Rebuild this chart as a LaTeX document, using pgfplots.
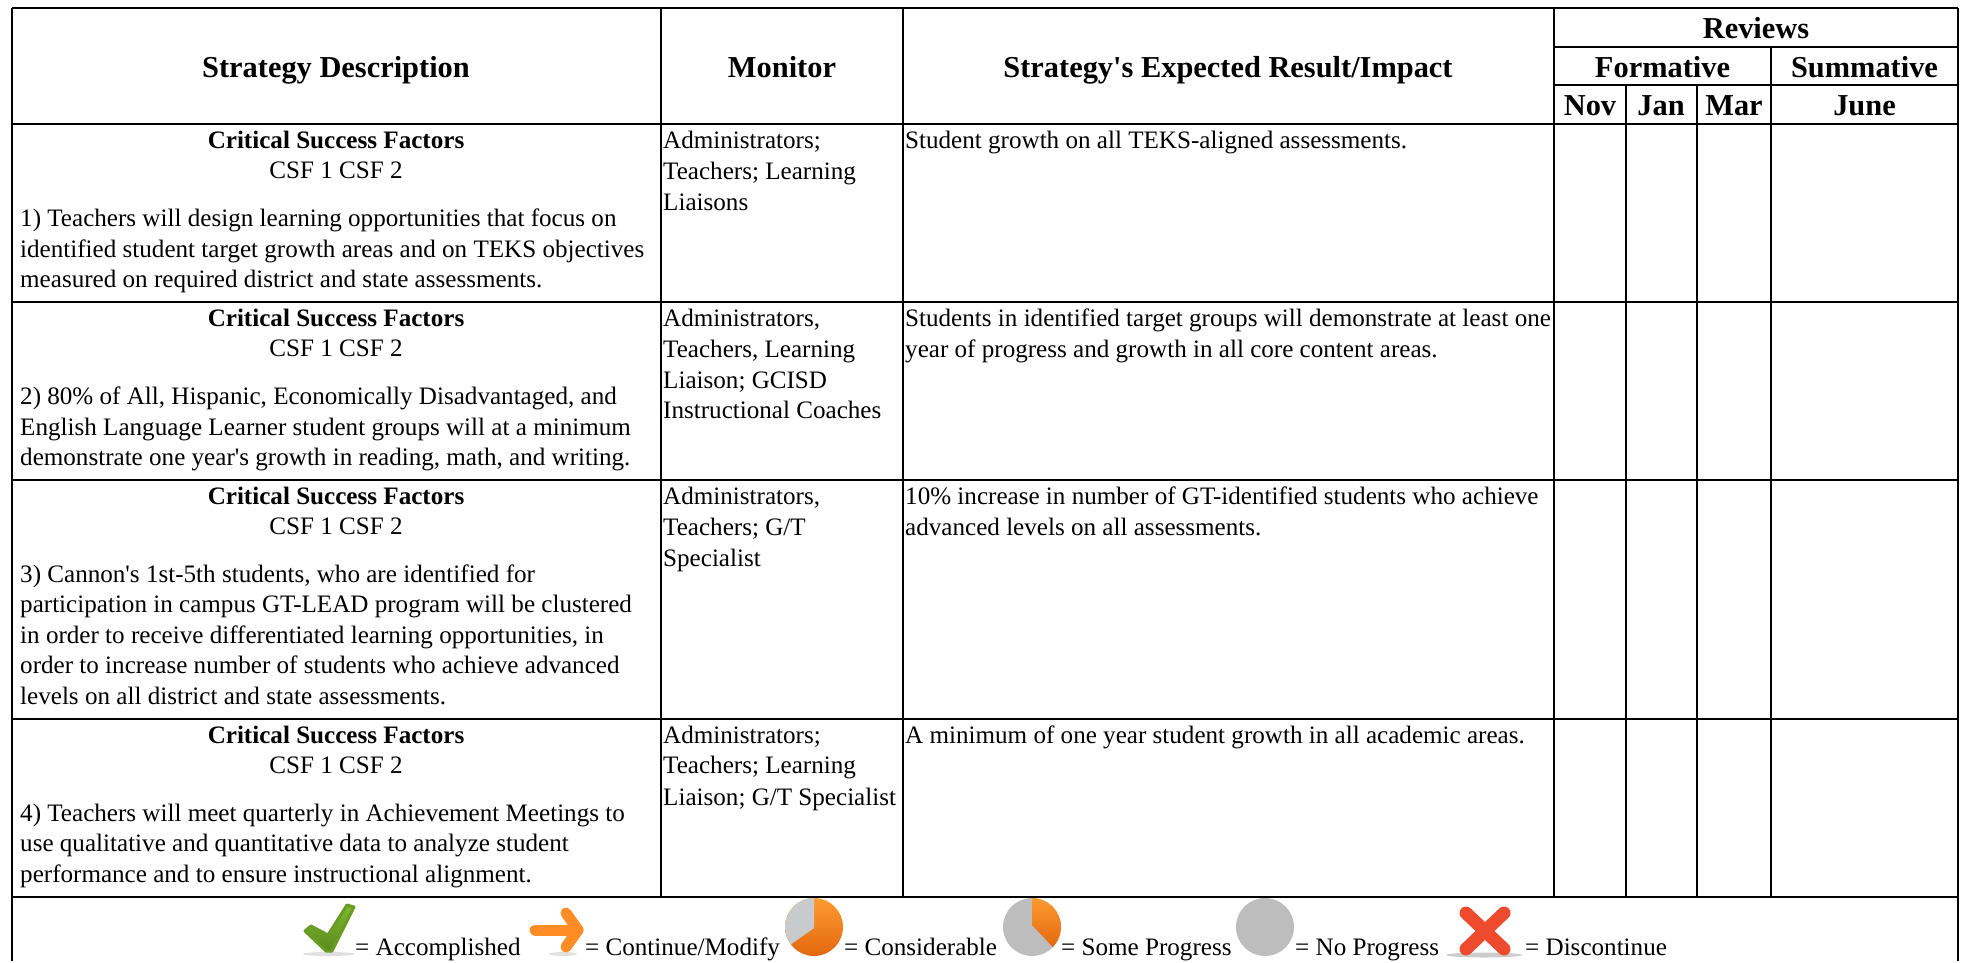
\documentclass[border=0pt]{standalone}
\usepackage{pgfplots}
\pgfplotsset{compat=1.18}
\usepackage{fontspec}
\setmainfont{Liberation Serif}[Ligatures=TeXOff]
\definecolor{chkA}{HTML}{80B830}
\definecolor{chkB}{HTML}{5A8A1E}
\definecolor{orA}{HTML}{FF8C24}
\definecolor{orC}{HTML}{FF9A30}
\definecolor{orB}{HTML}{E2680F}
\definecolor{grA}{HTML}{C8CACC}
\definecolor{grB}{HTML}{BDBDBD}
\definecolor{redA}{HTML}{EE4A2E}
\newcommand{\T}[3]{\node[anchor=base west,inner sep=0pt] at (axis cs:#1,#2) {\fontsize{25.1}{28}\selectfont #3};}
\newcommand{\C}[3]{\node[anchor=base,inner sep=0pt] at (axis cs:#1,#2) {\fontsize{25.1}{28}\selectfont #3};}
\newcommand{\B}[2]{\node[anchor=base,inner sep=0pt] at (axis cs:336,#1) {\fontsize{25.1}{28}\selectfont\bfseries #2};}
\newcommand{\HH}[3]{\node[anchor=base,inner sep=0pt] at (axis cs:#1,#2) {\fontsize{30.4}{32}\selectfont\bfseries #3};}
\newcommand{\Ln}[4]{\addplot[black,line width=2pt,forget plot] coordinates {(#1,#2) (#3,#4)};}
\begin{document}
\begin{tikzpicture}
\begin{axis}[scale only axis,width=1965pt,height=961pt,xmin=0,xmax=1965,ymin=0,ymax=961,y dir=reverse,axis lines=none,clip=false]
\path (axis cs:0,0) (axis cs:1965,961);
% outer and row rules
\Ln{12}{8}{1958}{8}
\Ln{1554}{47}{1958}{47}
\Ln{1554}{85}{1958}{85}
\Ln{12}{124}{1958}{124}
\Ln{12}{302}{1958}{302}
\Ln{12}{480}{1958}{480}
\Ln{12}{719}{1958}{719}
\Ln{12}{897}{1958}{897}
\Ln{12}{8}{12}{961}
\Ln{1958}{8}{1958}{961}
\Ln{661}{8}{661}{897}
\Ln{902.5}{8}{902.5}{897}
\Ln{1554}{8}{1554}{897}
\Ln{1626}{85}{1626}{897}
\Ln{1697}{85}{1697}{897}
\Ln{1771}{47}{1771}{897}
% header
\HH{336}{77}{Strategy Description}
\HH{782}{77}{Monitor}
\HH{1228}{77}{Strategy's Expected Result/Impact}
\HH{1756}{38}{Reviews}
\HH{1662.5}{77}{Formative}
\HH{1864.5}{77}{Summative}
\HH{1590}{115}{Nov}
\HH{1661}{115}{Jan}
\HH{1734}{115}{Mar}
\HH{1864.5}{115}{June}
% row 1
\B{148}{Critical Success Factors}
\C{336}{178.5}{CSF 1 CSF 2}
\T{20}{226}{1) Teachers will design learning opportunities that focus on}
\T{20}{257}{identified student target growth areas and on TEKS objectives}
\T{20}{287}{measured on required district and state assessments.}
\T{663}{148}{Administrators;}
\T{663}{179}{Teachers; Learning}
\T{663}{210}{Liaisons}
\T{905}{148}{Student growth on all TEKS-aligned assessments.}
% row 2
\B{326}{Critical Success Factors}
\C{336}{356.5}{CSF 1 CSF 2}
\T{20}{404}{2) 80\% of All, Hispanic, Economically Disadvantaged, and}
\T{20}{435}{English Language Learner student groups will at a minimum}
\T{20}{465}{demonstrate one year's growth in reading, math, and writing.}
\T{663}{326}{Administrators,}
\T{663}{357}{Teachers, Learning}
\T{663}{388}{Liaison; GCISD}
\T{663}{418}{Instructional Coaches}
\T{905}{326}{Students in identified target groups will demonstrate at least one}
\T{905}{357}{year of progress and growth in all core content areas.}
% row 3
\B{504}{Critical Success Factors}
\C{336}{534.5}{CSF 1 CSF 2}
\T{20}{582}{3) Cannon's 1st-5th students, who are identified for}
\T{20}{612.5}{participation in campus GT-LEAD program will be clustered}
\T{20}{643}{in order to receive differentiated learning opportunities, in}
\T{20}{673.5}{order to increase number of students who achieve advanced}
\T{20}{704}{levels on all district and state assessments.}
\T{663}{504}{Administrators,}
\T{663}{535}{Teachers; G/T}
\T{663}{566}{Specialist}
\T{905}{504}{10\% increase in number of GT-identified students who achieve}
\T{905}{535}{advanced levels on all assessments.}
% row 4
\B{743}{Critical Success Factors}
\C{336}{773.5}{CSF 1 CSF 2}
\T{20}{821}{4) Teachers will meet quarterly in Achievement Meetings to}
\T{20}{851.5}{use qualitative and quantitative data to analyze student}
\T{20}{882}{performance and to ensure instructional alignment.}
\T{663}{743}{Administrators;}
\T{663}{773.5}{Teachers; Learning}
\T{663}{805}{Liaison; G/T Specialist}
\T{905}{743}{A minimum of one year student growth in all academic areas.}
% legend shadows
\fill[black!12] (axis cs:329,954) ellipse [x radius=26pt,y radius=2pt];
\fill[black!12] (axis cs:563,954) ellipse [x radius=14pt,y radius=2pt];
\fill[black!20] (axis cs:1484,955) ellipse [x radius=38pt,y radius=2.5pt];
% legend text
\T{355}{955}{= Accomplished}
\T{585}{955}{= Continue/Modify}
\T{844}{955}{= Considerable}
\T{1061}{955}{= Some Progress}
\T{1295}{955}{= No Progress}
\T{1525}{955}{= Discontinue}
% check
\addplot[draw=chkB!60!chkA,line width=3pt,line join=round,top color=chkA,bottom color=chkB,forget plot] coordinates {(305,931) (311,926) (328,935) (347,905) (354,907) (332,951) (326,951) (305,931)} -- cycle;
% arrow
\addplot[orA,line width=11pt,line cap=round,line join=round,forget plot] coordinates {(535,930) (578,930)};
\addplot[orA,line width=11pt,line cap=round,line join=round,forget plot] coordinates {(566,913) (578,930) (566,947)};
% pies
\path[top color=orC,bottom color=orB] (axis cs:814,927) circle [radius=29pt];
\fill[grA] (axis cs:814,928) -- (axis cs:814,898) arc [start angle=90,end angle=217,radius=29pt] -- cycle;
\fill[grB] (axis cs:1032,927) circle [radius=29pt];
\path[top color=orC,bottom color=orB] (axis cs:1032,925) -- (axis cs:1032,898) arc [start angle=90,end angle=-44,radius=29pt] -- cycle;
\fill[grB] (axis cs:1265,927) circle [radius=29pt];
% cross
\addplot[redA,line width=13pt,line cap=round,forget plot] coordinates {(1466,913) (1504,949)};
\addplot[redA,line width=13pt,line cap=round,forget plot] coordinates {(1504,913) (1466,949)};
\end{axis}
\end{tikzpicture}
\end{document}
